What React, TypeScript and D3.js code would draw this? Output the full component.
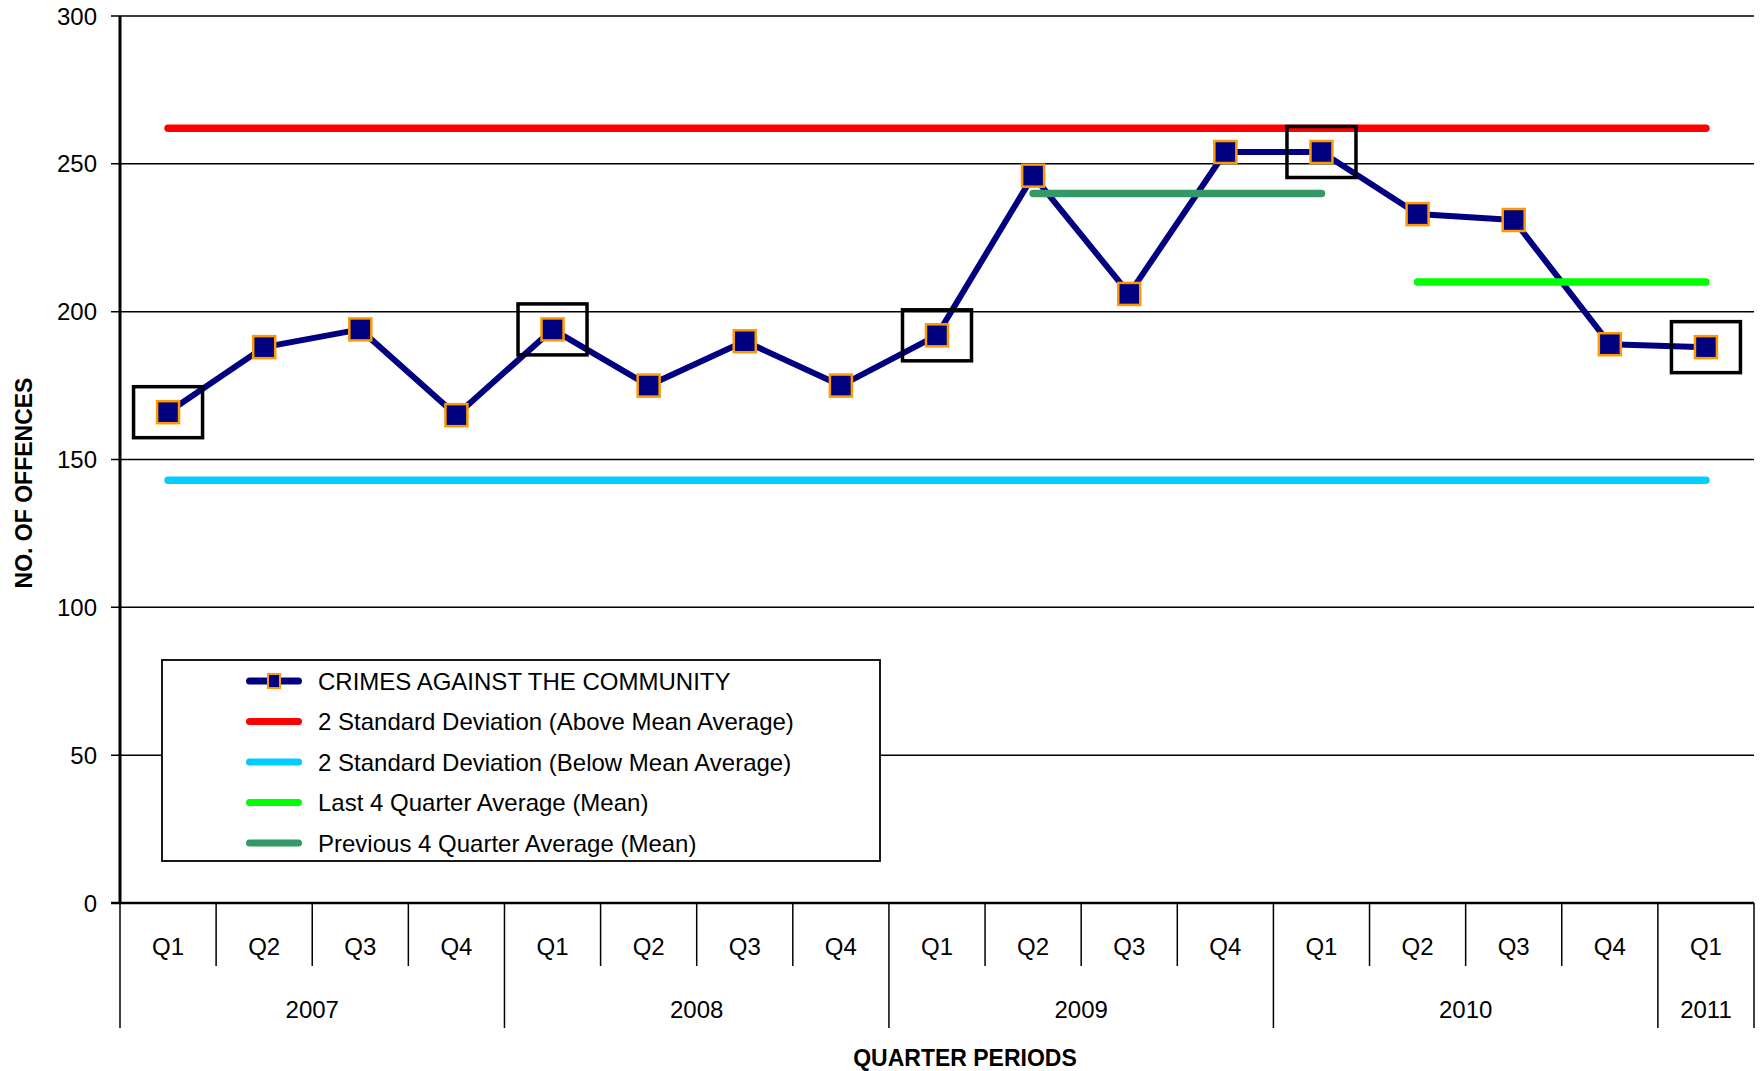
import React from "react";
import * as d3 from "d3";

// ---- Data ----
const quarterLabels = ["Q1", "Q2", "Q3", "Q4", "Q1", "Q2", "Q3", "Q4", "Q1", "Q2", "Q3", "Q4", "Q1", "Q2", "Q3", "Q4", "Q1"];
const yearLabels = ["2007", "2008", "2009", "2010", "2011"];
const quartersPerYear = [4, 4, 4, 4, 1];
const offences = [166, 188, 194, 165, 194, 175, 190, 175, 192, 246, 206, 254, 254, 233, 231, 189, 188];
const upperLimit = 262; // 2 SD above mean
const lowerLimit = 143; // 2 SD below mean
const last4Average = 210;
const last4Range = [13, 16];
const previous4Average = 240;
const previous4Range = [9, 12];
const yTicks = [0, 50, 100, 150, 200, 250, 300];
const legendLabels = [
  "CRIMES AGAINST THE COMMUNITY",
  "2 Standard Deviation (Above Mean Average)",
  "2 Standard Deviation (Below Mean Average)",
  "Last 4 Quarter Average (Mean)",
  "Previous 4 Quarter Average (Mean)",
];
const yTitle = "NO. OF OFFENCES";
const xTitle = "QUARTER PERIODS";

// ---- Styles ----
const NAVY = "#000080";
const ORANGE = "#FF9900";
const RED = "#FF0000";
const CYAN = "#00CCFF";
const LIME = "#00FF00";
const SEA = "#339966";
const FONT = "'Liberation Sans', Arial, Helvetica, sans-serif";

export default function App() {
  const W = 1761;
  const H = 1071;
  const left = 120;
  const right = 1754;
  const top = 16;
  const bottom = 903;

  const idx = d3.range(offences.length);
  const x = d3.scaleBand<number>().domain(idx).range([left, right]).padding(0);
  const bw = x.bandwidth();
  const cx = (i: number) => (x(i) as number) + bw / 2;
  const y = d3.scaleLinear().domain([0, 300]).range([bottom, top]);

  const line = d3
    .line<number>()
    .x((_, i) => cx(i))
    .y((d) => y(d));

  const yearStarts: number[] = [];
  let acc = 0;
  quartersPerYear.forEach((n) => {
    yearStarts.push(acc);
    acc += n;
  });
  const yearBoundaries = [...yearStarts, acc];
  const boundaryX = (k: number) => (k >= offences.length ? right : (x(k) as number));

  const refLines = [
    { v: upperLimit, from: 0, to: offences.length - 1, color: RED },
    { v: lowerLimit, from: 0, to: offences.length - 1, color: CYAN },
    { v: last4Average, from: last4Range[0], to: last4Range[1], color: LIME },
    { v: previous4Average, from: previous4Range[0], to: previous4Range[1], color: SEA },
  ];

  const legendColors = [NAVY, RED, CYAN, LIME, SEA];
  const lg = { x: 162, y: 660, w: 718, h: 201, row0: 681, step: 40.5, s0: 246, s1: 302, tx: 318 };

  const markerSize = 22;
  const boxW = 69;
  const boxH = 51;

  return (
    <svg
      width={W}
      height={H}
      style={{ position: "absolute", left: 0, top: 0, background: "#fff" }}
      fontFamily={FONT}
    >
      <rect x={0} y={0} width={W} height={H} fill="#fff" />
      {/* gridlines */}
      {yTicks.map((t) => (
        <line
          key={"g" + t}
          x1={111}
          x2={right}
          y1={y(t)}
          y2={y(t)}
          stroke="#000"
          strokeWidth={t === 0 ? 2.5 : 1.5}
        />
      ))}
      {/* y tick labels */}
      {yTicks.map((t) => (
        <text key={"t" + t} x={97} y={y(t)} dy="0.36em" textAnchor="end" fontSize={24} fill="#000">
          {t}
        </text>
      ))}
      {/* y axis */}
      <line x1={left} x2={left} y1={y(300)} y2={bottom} stroke="#000" strokeWidth={3} />
      {/* category separators */}
      {idx.slice(1).map((i) =>
        yearBoundaries.includes(i) ? null : (
          <line key={"s" + i} x1={x(i)} x2={x(i)} y1={bottom} y2={966} stroke="#000" strokeWidth={1.5} />
        )
      )}
      {yearBoundaries.map((k) => (
        <line
          key={"yb" + k}
          x1={boundaryX(k)}
          x2={boundaryX(k)}
          y1={bottom}
          y2={1028}
          stroke="#000"
          strokeWidth={1.5}
        />
      ))}
      {/* quarter labels */}
      {quarterLabels.map((q, i) => (
        <text key={"q" + i} x={cx(i)} y={946} dy="0.36em" textAnchor="middle" fontSize={24} fill="#000">
          {q}
        </text>
      ))}
      {/* year labels */}
      {yearLabels.map((yl, j) => {
        const a = boundaryX(yearBoundaries[j]);
        const b = boundaryX(yearBoundaries[j + 1]);
        return (
          <text key={"y" + yl} x={(a + b) / 2} y={1009} dy="0.36em" textAnchor="middle" fontSize={24} fill="#000">
            {yl}
          </text>
        );
      })}
      {/* axis titles */}
      <text x={965} y={1058} dy="0.36em" textAnchor="middle" fontSize={23} fontWeight="bold" fill="#000">
        {xTitle}
      </text>
      <text
        transform={`translate(24,483) rotate(-90)`}
        dy="0.36em"
        textAnchor="middle"
        fontSize={23}
        fontWeight="bold"
        fill="#000"
      >
        {yTitle}
      </text>

      {/* main series line */}
      <path d={line(offences) || ""} fill="none" stroke={NAVY} strokeWidth={6} strokeLinejoin="round" />

      {/* reference lines */}
      {refLines.map((r, k) => (
        <line
          key={"r" + k}
          x1={cx(r.from)}
          x2={cx(r.to)}
          y1={y(r.v)}
          y2={y(r.v)}
          stroke={r.color}
          strokeWidth={7.5}
          strokeLinecap="round"
        />
      ))}

      {/* markers */}
      {offences.map((v, i) => (
        <rect
          key={"m" + i}
          x={cx(i) - markerSize / 2}
          y={y(v) - markerSize / 2}
          width={markerSize}
          height={markerSize}
          fill={NAVY}
          stroke={ORANGE}
          strokeWidth={2.5}
        />
      ))}

      {/* highlight boxes on Q1 */}
      {offences.map((v, i) =>
        quarterLabels[i] === "Q1" ? (
          <rect
            key={"b" + i}
            x={cx(i) - boxW / 2}
            y={y(v) - boxH / 2}
            width={boxW}
            height={boxH}
            fill="none"
            stroke="#000"
            strokeWidth={3.5}
          />
        ) : null
      )}

      {/* legend */}
      <rect x={lg.x} y={lg.y} width={lg.w} height={lg.h} fill="#fff" stroke="#000" strokeWidth={1.8} />
      {legendLabels.map((lab, k) => {
        const ry = lg.row0 + k * lg.step;
        return (
          <g key={"l" + k}>
            <line
              x1={lg.s0 + 3.5}
              x2={lg.s1 - 3.5}
              y1={ry}
              y2={ry}
              stroke={legendColors[k]}
              strokeWidth={7}
              strokeLinecap="round"
            />
            {k === 0 && (
              <rect
                x={(lg.s0 + lg.s1) / 2 - 6}
                y={ry - 7}
                width={12}
                height={14}
                fill={NAVY}
                stroke={ORANGE}
                strokeWidth={2}
              />
            )}
            <text x={lg.tx} y={ry} dy="0.36em" fontSize={24} fill="#000">
              {lab}
            </text>
          </g>
        );
      })}
    </svg>
  );
}
